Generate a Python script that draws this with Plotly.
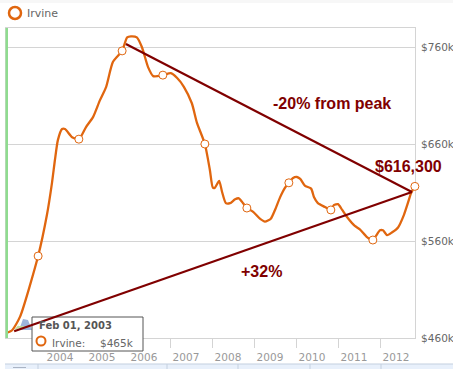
import plotly.graph_objects as go

dates = [2003.095,2003.24,2003.43,2003.86,2004.07,2004.19,2004.26,2004.33,2004.43,2004.50,2004.67,2004.83,
 2005.00,2005.17,2005.33,2005.48,2005.64,2005.86,2005.98,2006.07,2006.21,2006.33,2006.48,2006.60,2006.83,
 2007.02,2007.17,2007.33,2007.52,2007.64,2007.83,2007.95,2008.02,2008.07,2008.17,2008.24,2008.33,2008.43,
 2008.55,2008.64,2008.74,2008.83,2008.98,2009.14,2009.26,2009.40,2009.50,2009.62,2009.74,2009.83,2009.93,
 2010.02,2010.10,2010.21,2010.36,2010.43,2010.52,2010.69,2010.83,2010.90,2011.00,2011.10,2011.21,2011.40,
 2011.52,2011.69,2011.83,2011.90,2012.00,2012.07,2012.17,2012.29,2012.43,2012.57,2012.67,2012.74,2012.83]
prices = [465,468,482,544.5,587,620,643.5,664,675.5,675.5,667,665,
 677.5,688,705,719,744.5,756,770,771,770,760,739,730,731,
 733,728,719,702,682,660,633,615,615,622,610.5,599,599,
 603,604,599,594,590,583,580,583,592,605,615,620,625,
 626,624,617,614,605,599,595,592,597,598,592,585,575.5,
 572,564,561,565,571,571,566,569,574,587,600,609.5,616.3]
marker_dates = [2003.86,2004.83,2005.86,2006.83,2007.83,2008.83,2009.83,2010.83,2011.83,2012.83]
marker_prices = [544.5,665,756,731,660,594,620,592,561,616.3]
rise_dates = [2003.29,2012.76]
rise_prices = [467,610.5]
fall_dates = [2005.95,2012.76]
fall_prices = [763,610.5]
years = list(range(2004,2013))
price_ticks = [460,560,660,760]
price_labels = ["$460k","$560k","$660k","$760k"]

ORANGE="#e0660f"; RED="#800000"; GRID="#d4d4d4"; TXT="#666666"
W,H=453,369; L,R,T,B=6,415,28,338
XMIN,XMAX=2003.095,2012.833
YMIN,YMAX=460,779.6

def px_x(p): return XMIN+(p-L)/(R-L)*(XMAX-XMIN)
def px_y(p): return YMIN+(B-p)/(B-T)*(YMAX-YMIN)

fig=go.Figure()
fig.add_trace(go.Scatter(x=dates,y=prices,mode="lines",line=dict(color=ORANGE,width=2.3,shape="spline",smoothing=0.6),showlegend=False,cliponaxis=False))
fig.add_trace(go.Scatter(x=marker_dates,y=marker_prices,mode="markers",marker=dict(size=8,color="white",line=dict(color=ORANGE,width=1)),showlegend=False,cliponaxis=False))
over=dict(xaxis="x2",yaxis="y2",showlegend=False,cliponaxis=False,hoverinfo="skip")
# small logo watermark under the tooltip
fig.add_trace(go.Scatter(x=[px_x(p) for p in (19,23,28,32,19)],y=[px_y(p) for p in (330,319,320,330,330)],mode="lines",fill="toself",fillcolor="#9db4dc",line=dict(width=0),**over))
fig.add_trace(go.Scatter(x=[px_x(p) for p in (14,22,18,26,14)],y=[px_y(p) for p in (330,321,326,326,330)],mode="lines",fill="toself",fillcolor="#c4dc9a",line=dict(width=0),**over))
# tooltip box
bx=[px_x(32),px_x(143),px_x(143),px_x(32),px_x(32)]
by=[px_y(317),px_y(317),px_y(351),px_y(351),px_y(317)]
fig.add_trace(go.Scatter(x=bx,y=by,mode="lines",fill="toself",fillcolor="white",line=dict(color="#555555",width=1),**over))
fig.add_trace(go.Scatter(x=[px_x(41)],y=[px_y(341)],mode="markers",marker=dict(size=9,color="white",line=dict(color=ORANGE,width=2)),**over))
# legend symbol
fig.add_trace(go.Scatter(x=[px_x(15)],y=[px_y(13)],mode="markers",marker=dict(size=12,color="white",line=dict(color=ORANGE,width=2.5)),**over))
fig.add_trace(go.Scatter(x=rise_dates,y=rise_prices,mode="lines",line=dict(color=RED,width=2.2),**over))
fig.add_trace(go.Scatter(x=fall_dates,y=fall_prices,mode="lines",line=dict(color=RED,width=2.2),**over))

def note(text,x,y,size,color,bold=False,family="Liberation Sans",xanchor="center"):
    fig.add_annotation(text=f"<b>{text}</b>" if bold else text,x=x/W,y=1-y/H,xref="paper",yref="paper",showarrow=False,
        font=dict(size=size,color=color,family=family),xanchor=xanchor,yanchor="middle",borderpad=0,borderwidth=0)

def band(x0,y0,x1,y1,fill,line=0,lc=None):
    return dict(type="rect",xref="paper",yref="paper",x0=x0/W,x1=x1/W,y0=1-y0/H,y1=1-y1/H,fillcolor=fill,line=dict(width=line,color=lc or fill),layer="above")

fig.update_layout(width=W,height=H,margin=dict(l=0,r=0,t=0,b=0,autoexpand=False),paper_bgcolor="white",plot_bgcolor="rgba(0,0,0,0)",showlegend=False,
    xaxis=dict(domain=[L/W,R/W],range=[XMIN,XMAX],anchor="y",tickvals=[y+0.38 for y in years],ticktext=[str(y) for y in years],ticks="outside",ticklen=9,tickcolor="rgba(0,0,0,0)",showgrid=False,zeroline=False,
        layer="below traces",tickfont=dict(family="DejaVu Sans",size=10.5,color="#999999"),
        minor=dict(tickvals=years,ticks="outside",ticklen=9,tickcolor=GRID,tickwidth=1,showgrid=False),
        showline=True,linecolor=GRID,linewidth=1,mirror=True),
    yaxis=dict(domain=[1-B/H,1-T/H],range=[YMIN,YMAX],anchor="x",side="right",tickvals=price_ticks,ticktext=price_labels,ticks="outside",ticklen=3,tickcolor="rgba(0,0,0,0)",gridcolor=GRID,gridwidth=1,zeroline=False,
        layer="below traces",tickfont=dict(family="DejaVu Sans",size=10.5,color=TXT),showline=True,linecolor=GRID,linewidth=1,mirror=True),
    xaxis2=dict(domain=[0,1],range=[px_x(0),px_x(W)],anchor="y2",visible=False),
    yaxis2=dict(domain=[0,1],range=[px_y(H),px_y(0)],anchor="x2",visible=False),
    shapes=[band(0,0,W,3,"#f7f7f7"),band(5.5,28,8,338,"#8fdc8f"),band(5,364,W,369,"#e8f0fb"),band(5,363.5,W,364.5,"#c4cfe0"),
        band(13,367,26,368,"#aab4c4"),
        band(37.5,364,38.5,369,"#c4cfe0"),band(166.5,364,167.5,369,"#c4cfe0"),band(237.5,364,238.5,369,"#c4cfe0"),band(309.5,364,310.5,369,"#c4cfe0"),band(380.5,364,381.5,369,"#c4cfe0")])
note("-20% from peak",332,103,16,RED,True)
note("$616,300",408,166,16,RED,True)
note("+32%",261,271,16,RED,True)
note("Irvine",27,14,11,TXT,False,"DejaVu Sans","left")
note("<b>Feb 01, 2003</b>",39,325,10,"#555555",False,"DejaVu Sans","left")
note("Irvine:",52,343,10.5,"#666666",False,"DejaVu Sans","left")
note("$465k",100,343,10.5,"#666666",False,"DejaVu Sans","left")
fig.write_html("out.html",post_script="document.body.style.margin='0';",config=dict(displayModeBar=False))
